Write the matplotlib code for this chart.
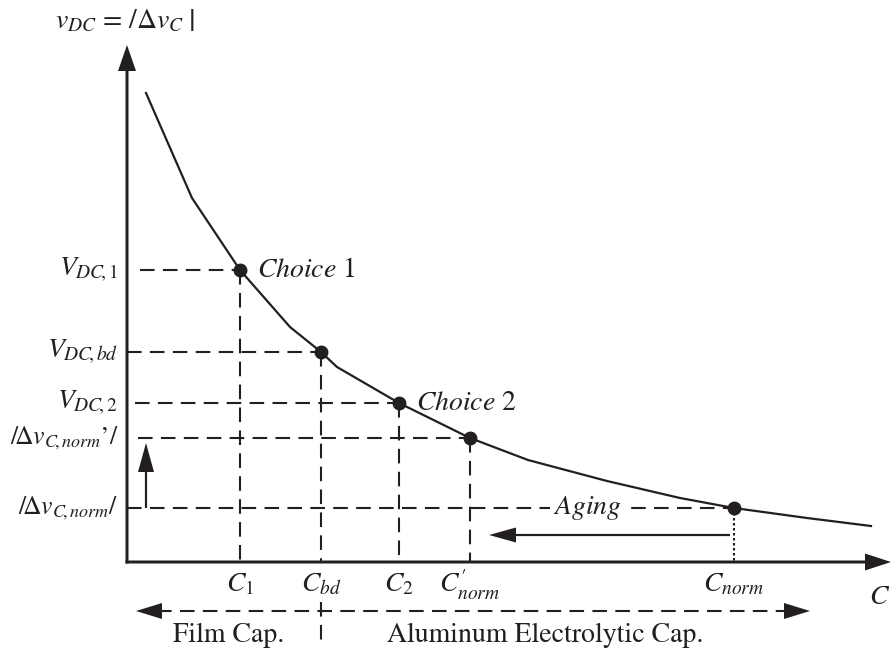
import matplotlib
matplotlib.use("Agg")
import matplotlib.pyplot as plt

plt.rcParams['font.family'] = ['STIXGeneral', 'DejaVu Serif']
plt.rcParams['mathtext.fontset'] = 'stix'

# ---- data (schematic, in drawing units: origin at axes crossing) ----
curve_C = [19, 65, 113, 163, 194, 210, 272, 343, 401, 480, 553, 607, 680, 744]
curve_V = [469, 364, 292, 235, 210, 195, 159, 124, 102, 81, 64, 54, 44, 36]

point_names = ["C1", "Cbd", "C2", "Cnorm_p", "Cnorm"]
point_C = [113, 194, 272, 343, 607]
point_V = [292, 210, 159, 124, 54]

x_tick_labels = [r"$C_1$", r"$C_{bd}$", r"$C_2$", r"$C^{\prime}_{norm}$", r"$C_{norm}$"]
y_tick_labels = [r"$V_{DC\!,1}$", r"$V_{DC\!,bd}$", r"$V_{DC\!,2}$",
                 r"$/\!\Delta v_{C\!,norm}$’$/$", r"$/\!\Delta v_{C\!,norm}/$"]
y_label_sizes = [20, 20, 20, 18.5, 18.5]
h_line_start = [13, 0, 8, 11, 0]

col = '#231f20'

fig = plt.figure(figsize=(8.92, 6.53), dpi=100)
ax = fig.add_axes([0, 0, 1, 1])
ax.set_xlim(-127, 765)
ax.set_ylim(-91, 562)
ax.axis('off')

FS = 20
dash = (0, (7, 4))

# axes arrows
ax.arrow(0, -1.5, 0, 518.5, width=3, head_width=18, head_length=26,
         length_includes_head=True, color=col, lw=0)
ax.arrow(-1.5, 0, 765.5, 0, width=3, head_width=17, head_length=26,
         length_includes_head=True, color=col, lw=0)

# curve
ax.plot(curve_C, curve_V, color=col, lw=1.6, solid_joinstyle='round', zorder=3)

# dashed guide lines
for i, (c, v) in enumerate(zip(point_C, point_V)):
    ax.plot([h_line_start[i], c], [v, v], color=col, lw=1.5, ls=dash, zorder=2)
    if point_names[i] == "Cnorm":
        ax.plot([c, c], [v, 0], color=col, lw=1.5, ls=(0, (1.2, 1.2)), zorder=2)
    else:
        ax.plot([c, c], [v, 0], color=col, lw=1.5, ls=dash, zorder=2)
    if point_names[i] == "Cbd":
        ax.plot([c, c], [-40, -80], color=col, lw=1.5, ls=dash, zorder=2)

ax.plot(point_C, point_V, 'o', color=col, ms=9, zorder=4)

# tick labels
for c, lab in zip(point_C, x_tick_labels):
    ax.text(c, -23, lab, ha='center', va='center', fontsize=FS, color=col)
for v, lab, fs in zip(point_V, y_tick_labels, y_label_sizes):
    ax.text(-9, v, lab, ha='right', va='center', fontsize=fs, color=col)

# axis titles
ax.text(-2, 541, r"$v_{DC}$ = $/\left.\Delta v_{C}\;\right|$", ha='center', va='center',
        fontsize=FS, color=col)
ax.text(753, -35, r"$C$", ha='center', va='center', fontsize=FS, color=col)

# choices
ax.text(130, point_V[0], r"$Choice$ 1", ha='left', va='center', fontsize=FS, color=col)
ax.text(289, point_V[2], r"$Choice$ 2", ha='left', va='center', fontsize=FS, color=col)

# aging
ax.text(460, point_V[4], r"$Aging$", ha='center', va='center', fontsize=FS, color=col,
        bbox=dict(facecolor='white', edgecolor='none', pad=2), zorder=5)
ax.arrow(603, 27, -241, 0, width=2.2, head_width=15, head_length=27,
         length_includes_head=True, color=col, lw=0)

# small up arrow
ax.arrow(19, point_V[4], 0, 65, width=2.2, head_width=16, head_length=29,
         length_includes_head=True, color=col, lw=0)

# bottom double dashed arrow
ax.plot([30, 662], [-49, -49], color=col, lw=1.5, ls=dash)
ax.arrow(35, -49, -26, 0, width=0, head_width=16, head_length=26,
         length_includes_head=True, color=col, lw=0)
ax.arrow(657, -49, 26, 0, width=0, head_width=16, head_length=26,
         length_includes_head=True, color=col, lw=0)

ax.text(102, -73, "Film Cap.", ha='center', va='center', fontsize=FS, color=col)
ax.text(418, -73, "Aluminum Electrolytic Cap.", ha='center', va='center',
        fontsize=FS, color=col)

fig.savefig("out.png", dpi=100)
